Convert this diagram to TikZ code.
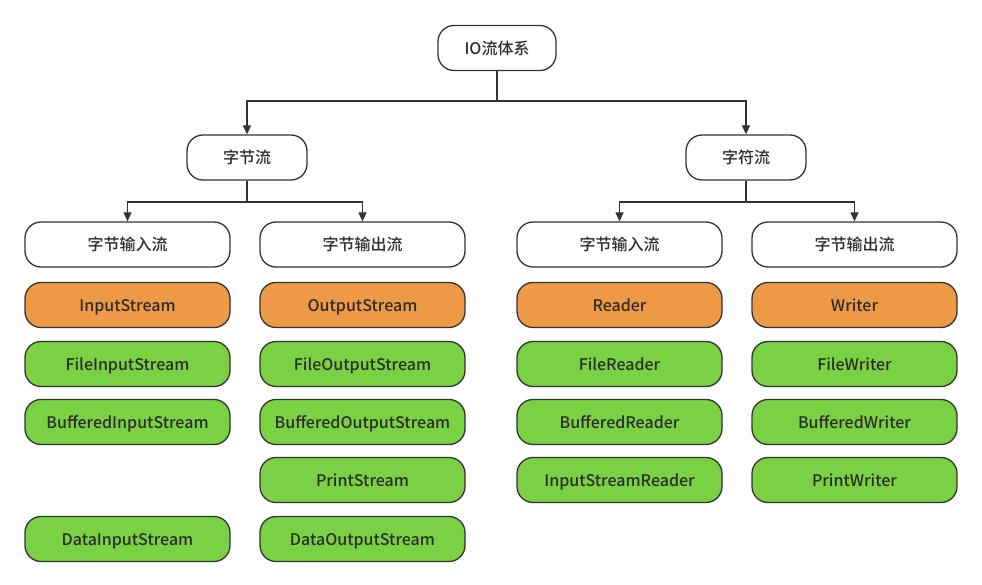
\documentclass[tikz,border=0pt]{standalone}
\usepackage{fontspec}
\setmainfont{Noto Sans CJK SC}[BoldFont={* Medium}]
\usetikzlibrary{arrows.meta}
\begin{document}
\begin{tikzpicture}[x=1pt,y=-1pt,
  box/.style={draw=lineColor,line width=1.3pt,rounded corners=16pt,fill=white,
    minimum height=45pt,inner sep=0pt,text=textColor,
    text height=14pt,text depth=1pt,
    font=\fontsize{16}{19}\selectfont\bfseries},
  topbox/.style={box,minimum width=118pt},
  midbox/.style={box,minimum width=120pt},
  catbox/.style={box,minimum width=205pt},
  basebox/.style={catbox,fill=orangeFill},
  subbox/.style={catbox,fill=greenFill},
  link/.style={draw=lineColor,line width=1.3pt},
  arrow/.style={link,-{Triangle[length=9pt,width=8pt]}}]
\definecolor{lineColor}{RGB}{51,51,51}
\definecolor{textColor}{RGB}{45,45,45}
\definecolor{orangeFill}{RGB}{238,153,69}
\definecolor{greenFill}{RGB}{122,209,68}
\path[use as bounding box,fill=white] (0,0) rectangle (982,585);

% root and the two kinds
\node[topbox] (io) at (497,48) {IO流体系};
\node[midbox] (bytes) at (247,157.5) {字节流};
\node[midbox] (chars) at (746,157.5) {字符流};

% input / output groups
\node[catbox] (bin) at (127.5,244.5) {字节输入流};
\node[catbox] (bout) at (362.5,244.5) {字节输出流};
\node[catbox] (cin) at (619.5,244.5) {字节输入流};
\node[catbox] (cout) at (854.5,244.5) {字节输出流};

% byte input classes
\node[basebox] (inputstream) at (127.5,305) {InputStream};
\node[subbox] (fileinput) at (127.5,364) {FileInputStream};
\node[subbox] (bufinput) at (127.5,422) {BufferedInputStream};
\node[subbox] (datainput) at (127.5,539) {DataInputStream};

% byte output classes
\node[basebox] (outputstream) at (362.5,305) {OutputStream};
\node[subbox] (fileoutput) at (362.5,364) {FileOutputStream};
\node[subbox] (bufoutput) at (362.5,422) {BufferedOutputStream};
\node[subbox] (printstream) at (362.5,480) {PrintStream};
\node[subbox] (dataoutput) at (362.5,539) {DataOutputStream};

% char input classes
\node[basebox] (reader) at (619.5,305) {Reader};
\node[subbox] (filereader) at (619.5,364) {FileReader};
\node[subbox] (bufreader) at (619.5,422) {BufferedReader};
\node[subbox] (isreader) at (619.5,480) {InputStreamReader};

% char output classes
\node[basebox] (writer) at (854.5,305) {Writer};
\node[subbox] (filewriter) at (854.5,364) {FileWriter};
\node[subbox] (bufwriter) at (854.5,422) {BufferedWriter};
\node[subbox] (printwriter) at (854.5,480) {PrintWriter};

% connectors
\coordinate (ioj) at (497,101);
\coordinate (bytesj) at (247,202);
\coordinate (charsj) at (746,202);
\path[link] (io.south) -- (ioj);
\path[arrow] (ioj) -| (bytes.north);
\path[arrow] (ioj) -| (chars.north);
\path[link] (bytes.south) -- (bytesj);
\path[arrow] (bytesj) -| (bin.north);
\path[arrow] (bytesj) -| (bout.north);
\path[link] (chars.south) -- (charsj);
\path[arrow] (charsj) -| (cin.north);
\path[arrow] (charsj) -| (cout.north);
\end{tikzpicture}
\end{document}
